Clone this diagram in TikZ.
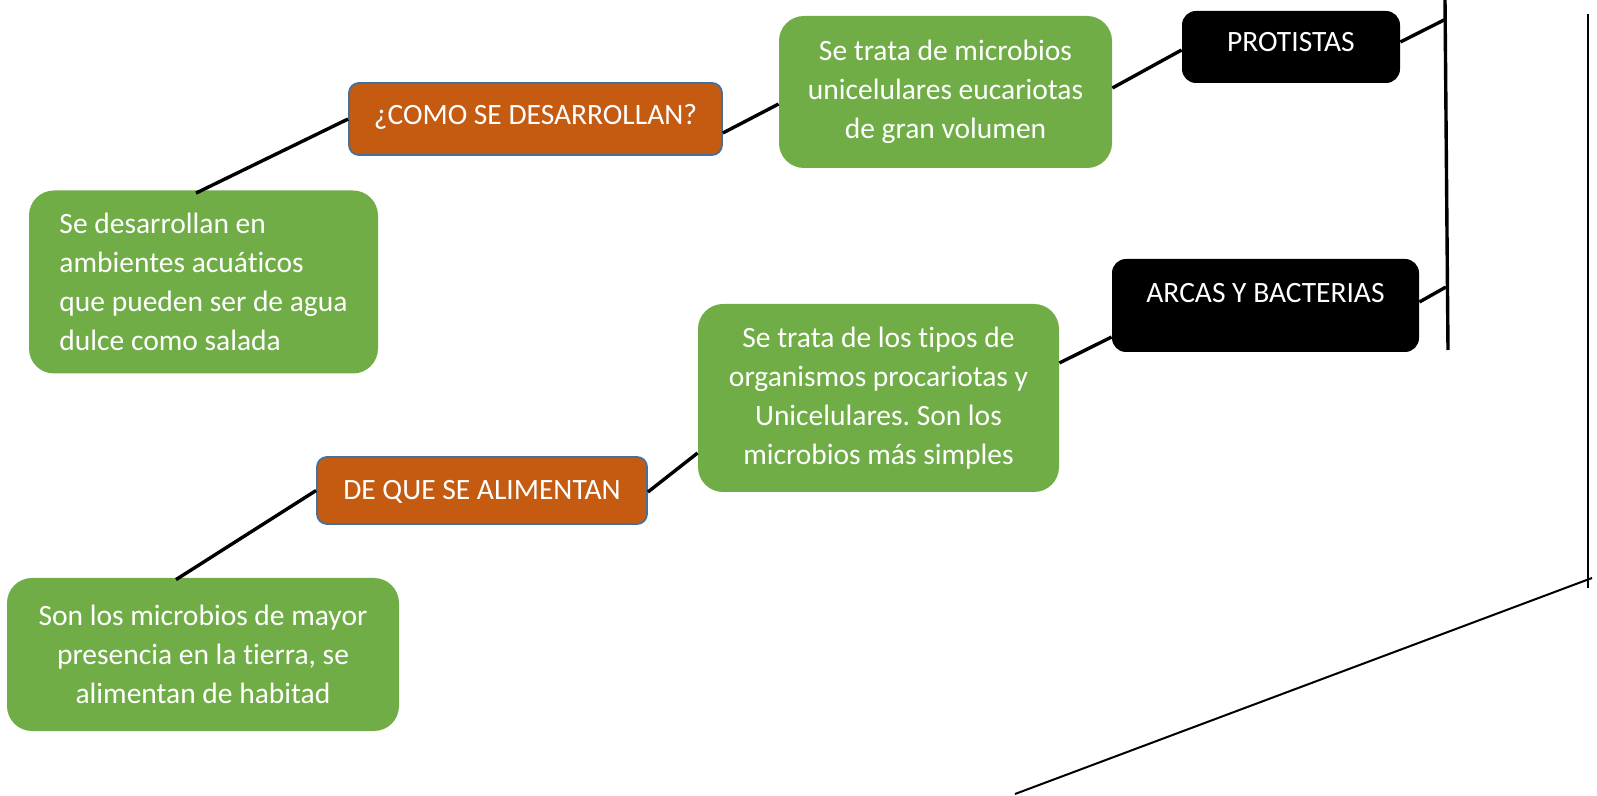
\documentclass[tikz,border=0pt]{standalone}
\usepackage{fontspec}
\setmainfont[Ligatures=NoCommon,Contextuals=NoAlternate]{Carlito}
\frenchspacing
\definecolor{boxgreen}{HTML}{70AD47}
\definecolor{boxorange}{HTML}{C55A11}
\definecolor{boxborder}{HTML}{41719C}
\begin{document}
\begin{tikzpicture}[x=0.5pt,y=-0.5pt,
  font=\fontsize{14.75}{19.4}\selectfont,
  greenbox/.style={rectangle, rounded corners=12.5pt, fill=boxgreen, text=white, inner sep=0pt, align=center},
  orangebox/.style={rectangle, rounded corners=5pt, fill=boxorange, draw=boxborder, line width=0.9pt, text=white, inner sep=0pt, text height=11pt},
  blackbox/.style={rectangle, rounded corners=7pt, fill=black, text=white, inner sep=0pt, text height=11pt},
  conn/.style={line width=1.7pt, black},
  thin/.style={line width=1pt, black}]
\path[use as bounding box] (0,0) rectangle (1597,796);

\node[greenbox, align=left, minimum width=174.5pt, minimum height=91.5pt] (gtl) at (203.5,282)
  {Se desarrollan en\\ambientes acuáticos\\que pueden ser de agua\\dulce como salada};
\node[orangebox, minimum width=186.5pt, minimum height=36pt, text depth=5pt] (o1) at (535.5,119) {¿COMO SE DESARROLLAN?};
\node[greenbox, minimum width=166.5pt, minimum height=76pt] (g1) at (945.5,92)
  {Se trata de microbios\\unicelulares eucariotas\\de gran volumen};
\node[blackbox, minimum width=109pt, minimum height=36pt, text depth=6pt] (prot) at (1291,47) {PROTISTAS};
\node[blackbox, minimum width=153.5pt, minimum height=46.5pt, text depth=13.5pt] (arcas) at (1265.5,305.5) {ARCAS Y BACTERIAS};
\node[greenbox, minimum width=180.5pt, minimum height=94pt] (g2) at (878.5,398)
  {Se trata de los tipos de\\organismos procariotas y\\Unicelulares. Son los\\microbios más simples};
\node[orangebox, minimum width=165pt, minimum height=33.5pt, text depth=1.5pt] (o2) at (482,490.5) {DE QUE SE ALIMENTAN};
\node[greenbox, minimum width=196pt, minimum height=76.5pt] (gb) at (203,654.5)
  {Son los microbios de mayor\\presencia en la tierra, se\\alimentan de habitad};

\coordinate (vtop) at (1445,0);
\coordinate (vbot) at (1448,350);
\coordinate (vp) at (1444,20);
\coordinate (va) at (1446,287);
\coordinate (rtop) at (1588,14);
\coordinate (rbot) at (1588,588);
\coordinate (dl) at (1015,794);
\coordinate (dr) at (1592,578);

\draw[conn] (vtop) -- (vbot);
\draw[conn] ([xshift=-3.75pt,yshift=-1.5pt]gtl.north) -- (o1.west);
\draw[conn] ([yshift=-7pt]o1.east) -- ([yshift=-6pt]g1.west);
\draw[conn] ([yshift=2pt]g1.east) -- ([yshift=-1.5pt]prot.west);
\draw[conn] ([yshift=2.5pt]prot.east) -- (vp);
\draw[conn] ([yshift=17.5pt]g2.east) -- ([yshift=-15.75pt]arcas.west);
\draw[conn] ([yshift=1.75pt]arcas.east) -- (va);
\draw[conn] ([yshift=-0.75pt]o2.east) -- ([yshift=-27.5pt]g2.west);
\draw[conn] ([xshift=-13.5pt,yshift=-1pt]gb.north) -- (o2.west);
\draw[thin] (rtop) -- (rbot);
\draw[thin] (dl) -- (dr);
\end{tikzpicture}
\end{document}
